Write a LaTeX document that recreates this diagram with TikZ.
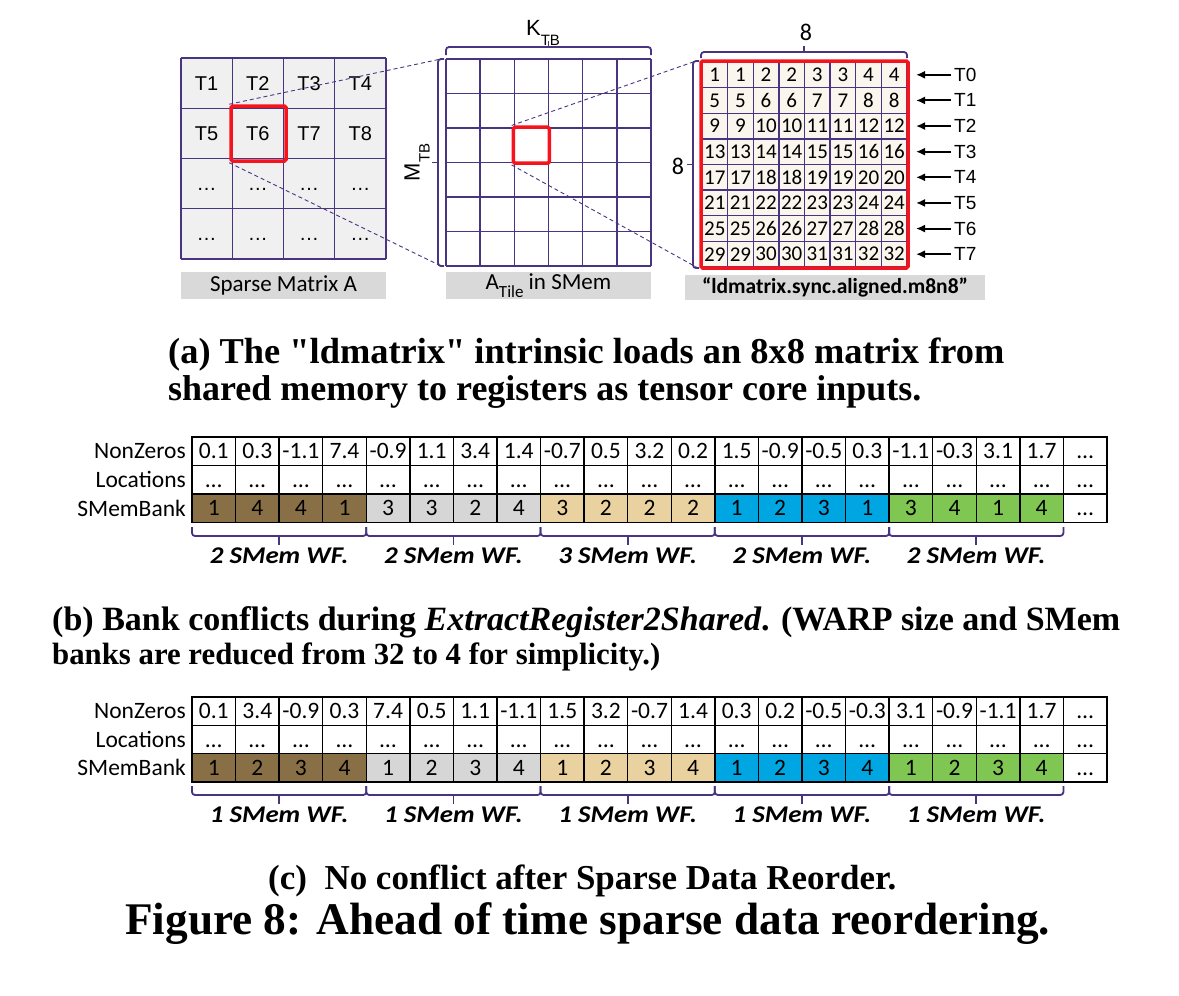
\documentclass[tikz,border=0pt]{standalone}
\usepackage{fontspec}
\setmainfont{Liberation Serif}
\newfontfamily\calfont{Carlito}
\newfontfamily\arifont{Liberation Sans}
\usetikzlibrary{arrows.meta}
\definecolor{purp}{RGB}{72,52,128}
\definecolor{redb}{RGB}{245,20,30}
\definecolor{smgray}{RGB}{240,240,240}
\definecolor{lgray}{RGB}{217,217,217}
\definecolor{cream}{RGB}{250,246,238}
\definecolor{brownc}{RGB}{137,111,70}
\definecolor{grayc}{RGB}{214,214,214}
\definecolor{tanc}{RGB}{234,210,160}
\definecolor{bluec}{RGB}{0,166,226}
\definecolor{greenc}{RGB}{128,198,82}
\tikzset{
  pline/.style={purp, line width=1.4pt},
  pbrace/.style={purp, line width=1.8pt, rounded corners=3pt},
  pdash/.style={purp, line width=0.9pt, dash pattern=on 4pt off 3pt},
  redbox/.style={draw=redb, line width=3.5pt, rounded corners=1.5pt, inner sep=0pt},
  lbox/.style={fill=lgray, inner sep=0pt, font=\calfont\fontsize{23}{23}\selectfont},
  tl/.style={font=\arifont\fontsize{20}{20}\selectfont, inner sep=0pt},
  gnum/.style={font=\calfont\fontsize{21}{21}\selectfont, inner sep=0pt},
  tcell/.style={draw=black, line width=1.4pt, minimum width=43.57pt, minimum height=28.5pt, inner sep=0pt, font=\calfont\fontsize{23.5}{23.5}\selectfont},
  rlab/.style={anchor=east, inner sep=0pt, font=\calfont\fontsize{23.5}{23.5}\selectfont},
  wf/.style={inner sep=0pt, font=\calfont\bfseries\itshape\fontsize{24}{24}\selectfont},
  capt/.style={anchor=west, inner sep=0pt, font=\bfseries}
}
\newcommand{\celldots}{\vphantom{0}…}
\newcommand{\sq}{\XeTeXglyph\XeTeXcharglyph"22\relax}
\begin{document}
\begin{tikzpicture}[x=1pt,y=-1pt]
\useasboundingbox (0,0) rectangle (1179,996);
\fill[white] (0,0) rectangle (1179,996);

% ---------- Sparse Matrix A ----------
\fill[smgray] (181,58) rectangle (386,259);
\foreach \i in {0,...,4} {
  \draw[pline] ({181+51.25*\i},58) -- ({181+51.25*\i},259);
  \draw[pline] (181,{58+50.25*\i}) -- (386,{58+50.25*\i});
}
\foreach \t [count=\k from 0] in {T1,T2,T3,T4,T5,T6,T7,T8,\vphantom{T}\dots,\vphantom{T}\dots,\vphantom{T}\dots,\vphantom{T}\dots,\vphantom{T}\dots,\vphantom{T}\dots,\vphantom{T}\dots,\vphantom{T}\dots} {
  \pgfmathtruncatemacro{\r}{int(\k/4)}
  \pgfmathtruncatemacro{\c}{mod(\k,4)}
  \node[tl] (sm-\k) at ({181+51.25*(\c+0.5)},{58+50.25*(\r+0.5)}) {\t};
}
\node[redbox, minimum width=55pt, minimum height=55pt] (t6box) at (258.5,133.5) {};
\node[lbox, minimum width=205pt, minimum height=27pt] (lab1) at (283.5,285.5) {Sparse Matrix A};

% ---------- A tile ----------
\foreach \i in {0,...,6} {
  \draw[pline] ({446+34.17*\i},59) -- ({446+34.17*\i},266);
  \draw[pline] (446,{59+34.5*\i}) -- (651,{59+34.5*\i});
}
\node[redbox, minimum width=36pt, minimum height=36pt] (tilebox) at (531.4,145.2) {};
\draw[pbrace] (444,59) -- (438,59) -- (438,266) -- (444,266);
\draw[pbrace] (438,162.5) -- (432,162.5);
\node[tl, rotate=90, font=\arifont\fontsize{22}{22}\selectfont] (mtb) at (417,162.5) {M\raisebox{-0.45em}{\fontsize{15}{15}\selectfont TB}};
\draw[pbrace] (446,55) -- (446,47) -- (651,47) -- (651,55);
\draw[pbrace] (548.5,47) -- (548.5,41);
\node[tl, font=\arifont\fontsize{22}{22}\selectfont] (ktb) at (543,33) {K\raisebox{-0.45em}{\fontsize{15}{15}\selectfont TB}};
\node[lbox, minimum width=205pt, minimum height=27pt] (lab2) at (548.5,285.5) {A\raisebox{-0.35em}{\fontsize{17}{17}\selectfont Tile} in SMem};
\coordinate (mtop) at (441,59);
\coordinate (mbot) at (441,266);
\draw[pdash] (t6box.north west) -- (mtop);
\draw[pdash] (t6box.south west) -- (mbot);

% ---------- ldmatrix 8x8 ----------
\fill[cream] (702,62) rectangle (907,267);
\foreach \i in {0,...,8} {
  \draw[pline] ({702+25.625*\i},62) -- ({702+25.625*\i},267);
  \draw[pline] (702,{62+25.625*\i}) -- (907,{62+25.625*\i});
}
\foreach \r in {0,...,7} {
  \foreach \c in {0,...,7} {
    \pgfmathtruncatemacro{\v}{4*\r+int(\c/2)+1}
    \node[gnum] (g-\r-\c) at ({702+25.625*(\c+0.5)},{62+25.625*(\r+0.5)}) {\v};
  }
  \node[tl, anchor=west, font=\arifont\fontsize{19}{19}\selectfont] (thr-\r) at (954,{62+25.625*(\r+0.5)}) {T\r};
  \coordinate (ra-\r) at (916,{62+25.625*(\r+0.5)});
  \draw[black, line width=2pt, -{Latex[length=9pt,width=8pt]}] ([xshift=-3pt]thr-\r.west) -- (ra-\r);
}
\node[draw=redb, line width=3.5pt, rounded corners=1.5pt, minimum width=207pt, minimum height=207pt, inner sep=0pt] (ldbox) at (804.5,164.5) {};
\draw[pbrace] (699,61) -- (693,61) -- (693,268) -- (699,268);
\draw[pbrace] (693,164.5) -- (687,164.5);
\node[gnum, font=\calfont\fontsize{24}{24}\selectfont] (eightl) at (678,166) {8};
\draw[pbrace] (701,58) -- (701,52) -- (907,52) -- (907,58);
\draw[pbrace] (804,52) -- (804,46);
\node[gnum, font=\calfont\fontsize{24}{24}\selectfont] (eightt) at (806,32) {8};
\coordinate (rtop) at (696,61);
\coordinate (rbot) at (698,268);
\draw[pdash] (tilebox.north west) -- (rtop);
\draw[pdash] (tilebox.south west) -- (rbot);
\node[lbox, minimum width=300pt, minimum height=25pt, font=\calfont\bfseries\fontsize{21.5}{21.5}\selectfont] (lab3) at (835,287.5) {“ldmatrix.sync.aligned.m8n8”};

% ---------- Caption (a) ----------
\node[capt] (capa1) at (168,355) {\resizebox{836pt}{!}{\bfseries (a) The \sq ldmatrix\sq\ intrinsic loads an 8x8 matrix from}};
\node[capt] (capa2) at (168,392) {\resizebox{753pt}{!}{\bfseries shared memory to registers as tensor core inputs.}};

% ---------- Table (b) ----------
\node[rlab] (bl1) at (186,451.25) {NonZeros};
\node[rlab] (bl2) at (186,479.75) {Locations};
\node[rlab] (bl3) at (186,508.25) {SMemBank};
\foreach \v/\k/\c [count=\i] in {0.1/1/brownc, 0.3/4/brownc, -1.1/4/brownc, 7.4/1/brownc, -0.9/3/grayc, 1.1/3/grayc, 3.4/2/grayc, 1.4/4/grayc, -0.7/3/tanc, 0.5/2/tanc, 3.2/2/tanc, 0.2/2/tanc, 1.5/1/bluec, -0.9/2/bluec, -0.5/3/bluec, 0.3/1/bluec, -1.1/3/greenc, -0.3/4/greenc, 3.1/1/greenc, 1.7/4/greenc, \celldots/\celldots/white} {
  \node[tcell] (bn-\i) at ({192+43.57*(\i-0.5)},451.25) {\v};
  \node[tcell] (bl-\i) at ({192+43.57*(\i-0.5)},479.75) {\celldots};
  \node[tcell, fill=\c] (bk-\i) at ({192+43.57*(\i-0.5)},508.25) {\k};
}
\foreach \n [count=\g from 0] in {2,2,3,2,2} {
  \draw[pbrace] ({192+174.28*\g},527) -- ({192+174.28*\g},536) -- ({192+174.28*(\g+1)},536) -- ({192+174.28*(\g+1)},527);
  \draw[pbrace] ({192+174.28*(\g+0.5)},536) -- ({192+174.28*(\g+0.5)},545);
  \node[wf] (bwf-\g) at ({192+174.28*(\g+0.5)},556) {\scalebox{1.12}[1]{\n\ SMem WF.}};
}

% ---------- Caption (b) ----------
\node[capt] (capb1) at (52,622) {\resizebox{1068pt}{!}{\bfseries (b) Bank conflicts during \textit{ExtractRegister2Shared}. (WARP size and SMem}};
\node[capt] (capb2) at (52,657) {\resizebox{608pt}{!}{\bfseries banks are reduced from 32 to 4 for simplicity.)}};

% ---------- Table (c) ----------
\node[rlab] (cl1) at (186,711.2) {NonZeros};
\node[rlab] (cl2) at (186,739.5) {Locations};
\node[rlab] (cl3) at (186,767.8) {SMemBank};
\foreach \v/\k/\c [count=\i] in {0.1/1/brownc, 3.4/2/brownc, -0.9/3/brownc, 0.3/4/brownc, 7.4/1/grayc, 0.5/2/grayc, 1.1/3/grayc, -1.1/4/grayc, 1.5/1/tanc, 3.2/2/tanc, -0.7/3/tanc, 1.4/4/tanc, 0.3/1/bluec, 0.2/2/bluec, -0.5/3/bluec, -0.3/4/bluec, 3.1/1/greenc, -0.9/2/greenc, -1.1/3/greenc, 1.7/4/greenc, \celldots/\celldots/white} {
  \node[tcell, minimum height=28.3pt] (cn-\i) at ({192+43.57*(\i-0.5)},711.2) {\v};
  \node[tcell, minimum height=28.3pt] (cl-\i) at ({192+43.57*(\i-0.5)},739.5) {\celldots};
  \node[tcell, minimum height=28.3pt, fill=\c] (ck-\i) at ({192+43.57*(\i-0.5)},767.8) {\k};
}
\foreach \g in {0,...,4} {
  \draw[pbrace] ({192+174.28*\g},786) -- ({192+174.28*\g},795) -- ({192+174.28*(\g+1)},795) -- ({192+174.28*(\g+1)},786);
  \draw[pbrace] ({192+174.28*(\g+0.5)},795) -- ({192+174.28*(\g+0.5)},804);
  \node[wf] (cwf-\g) at ({192+174.28*(\g+0.5)},815) {\scalebox{1.12}[1]{1 SMem WF.}};
}

% ---------- Caption (c) and figure title ----------
\node[capt] (capc) at (268,881) {\resizebox{628pt}{!}{\bfseries (c)\ \ No conflict after Sparse Data Reorder.}};
\node[capt] (figt) at (125,924) {\resizebox{925pt}{!}{\bfseries Figure 8: Ahead of time sparse data reordering.}};
\end{tikzpicture}
\end{document}
